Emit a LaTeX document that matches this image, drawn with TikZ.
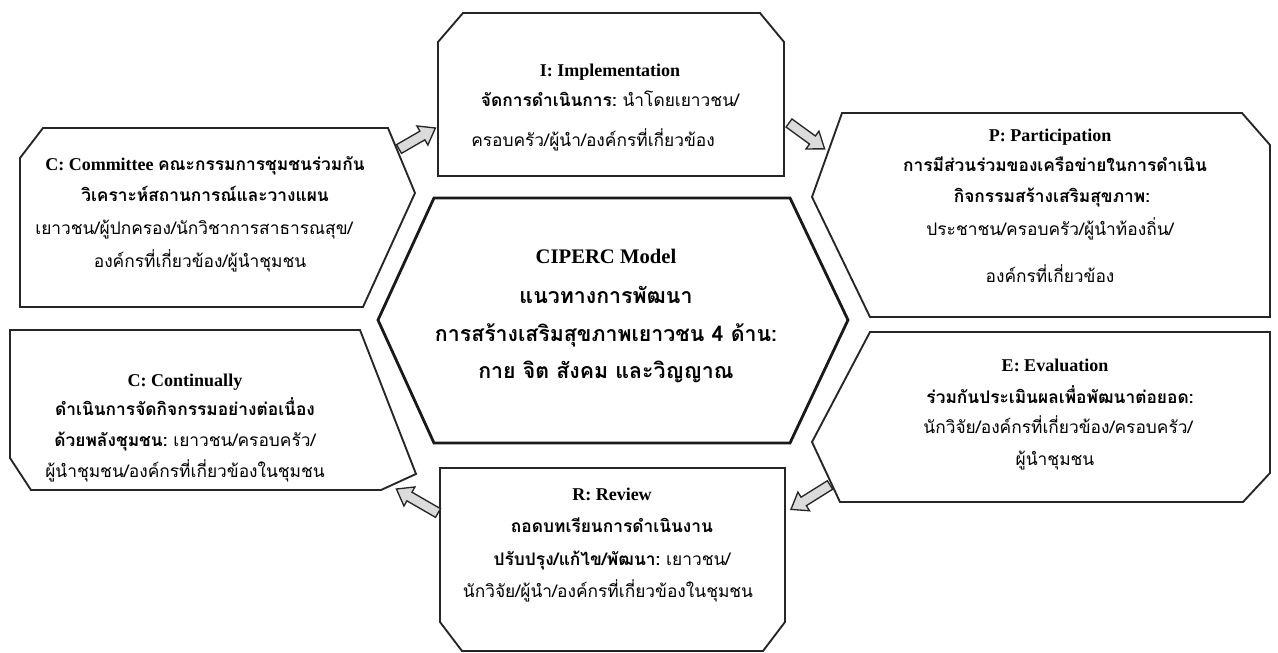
\documentclass[tikz,border=0pt]{standalone}
\usepackage{fontspec}
\setmainfont{Liberation Serif}
\newfontfamily\thaifont[Script=Thai]{Loma}
\newcommand\thx[1]{{\thaifont #1}}
\newcommand\thb[1]{{\thaifont\bfseries #1}}
% block arrow: start coordinate, angle, length
\newcommand\blockarrow[3]{%
  \begin{scope}[shift={(#1)}, rotate=#2]
    \draw[blockarr] (0,-5) -- (#3-15,-5) -- (#3-15,-11) -- (#3,0) -- (#3-15,11) -- (#3-15,5) -- (0,5) -- cycle;
  \end{scope}}
\begin{document}
\begin{tikzpicture}[x=0.75pt,y=-0.75pt,
  boxline/.style={draw=black!85, line width=1.4pt, line join=miter, fill=white},
  hexline/.style={draw=black!90, line width=2.1pt, line join=miter, fill=white},
  ln/.style={anchor=base, inner sep=0pt, font=\fontsize{13}{15}\selectfont},
  lat/.style={anchor=base, inner sep=0pt, font=\fontsize{13.5}{15}\selectfont\bfseries},
  cln/.style={anchor=base, inner sep=0pt, font=\fontsize{16}{18}\selectfont},
  clat/.style={anchor=base, inner sep=0pt, font=\fontsize{15.5}{17}\selectfont\bfseries},
  blockarr/.style={draw=black!85, fill=gray!28, line width=1pt, line join=miter}]
\useasboundingbox[fill=white] (0,0) rectangle (1278,653);

% boxes
\draw[boxline] (463,13) -- (760,13) -- (784,42) -- (784,176) -- (438,176) -- (438,42) -- cycle;
\draw[boxline] (43,128) -- (388,128) -- (415,193) -- (363,307) -- (20,307) -- (20,158) -- cycle;
\draw[boxline] (10,330) -- (360,330) -- (416,474) -- (381,490) -- (31,490) -- (10,458) -- cycle;
\draw[hexline] (434,198) -- (790,198) -- (848,320) -- (790,443) -- (434,443) -- (378,320) -- cycle;
\draw[boxline] (842,113) -- (1242,113) -- (1270,145) -- (1270,317) -- (870,317) -- (812,197) -- cycle;
\draw[boxline] (870,332) -- (1270,332) -- (1270,473) -- (1243,502) -- (840,502) -- (812,442) -- cycle;
\draw[boxline] (440,468) -- (785,468) -- (785,622) -- (763,651) -- (462,651) -- (440,622) -- cycle;

% arrows
\coordinate (a1s) at (399,149);
\coordinate (a2s) at (789,123);
\coordinate (a3s) at (830,485);
\coordinate (a4s) at (438,513);
\blockarrow{a1s}{30}{42}
\blockarrow{a2s}{-36}{44}
\blockarrow{a3s}{-148}{46}
\blockarrow{a4s}{150}{48}

% I box
\node[lat] (i1) at (610,76) {I: Implementation};
\node[ln] (i2) at (610,106) {\thb{จัดการดำเนินการ:} \thx{นำโดยเยาวชน/}};
\node[ln] (i3) at (593,146) {\thx{ครอบครัว/ผู้นำ/องค์กรที่เกี่ยวข้อง}};

% Committee
\node[ln] (c1) at (205,170) {{\fontsize{13.5}{15}\selectfont\bfseries C: Committee} \thb{คณะกรรมการชุมชนร่วมกัน}};
\node[ln] (c2) at (205,201) {\thb{วิเคราะห์สถานการณ์และวางแผน}};
\node[ln] (c3) at (194,234) {\thx{เยาวชน/ผู้ปกครอง/นักวิชาการสาธารณสุข/}};
\node[ln] (c4) at (200,267) {\thx{องค์กรที่เกี่ยวข้อง/ผู้นำชุมชน}};

% Continually
\node[lat] (k1) at (185,386) {C: Continually};
\node[ln] (k2) at (185,415) {\thb{ดำเนินการจัดกิจกรรมอย่างต่อเนื่อง}};
\node[ln] (k3) at (185,446) {\thb{ด้วยพลังชุมชน:} \thx{เยาวชน/ครอบครัว/}};
\node[ln] (k4) at (185,477) {\thx{ผู้นำชุมชน/องค์กรที่เกี่ยวข้องในชุมชน}};

% centre
\node[clat] (m1) at (606,263) {CIPERC Model};
\node[cln] (m2) at (606,303) {\thb{แนวทางการพัฒนา}};
\node[cln] (m3) at (606,341) {\thb{การสร้างเสริมสุขภาพเยาวชน 4 ด้าน:}};
\node[cln] (m4) at (606,378) {\thb{กาย จิต สังคม และวิญญาณ}};

% P
\node[lat] (p1) at (1050,141) {P: Participation};
\node[ln] (p2) at (1055,171) {\thb{การมีส่วนร่วมของเครือข่ายในการดำเนิน}};
\node[ln] (p3) at (1052,202) {\thb{กิจกรรมสร้างเสริมสุขภาพ:}};
\node[ln] (p4) at (1050,235) {\thx{ประชาชน/ครอบครัว/ผู้นำท้องถิ่น/}};
\node[ln] (p5) at (1050,282) {\thx{องค์กรที่เกี่ยวข้อง}};

% E
\node[lat] (e1) at (1055,371) {E: Evaluation};
\node[ln] (e2) at (1060,403) {\thb{ร่วมกันประเมินผลเพื่อพัฒนาต่อยอด:}};
\node[ln] (e3) at (1058,433) {\thx{นักวิจัย/องค์กรที่เกี่ยวข้อง/ครอบครัว/}};
\node[ln] (e4) at (1055,465) {\thx{ผู้นำชุมชน}};

% R
\node[lat] (r1) at (612,500) {R: Review};
\node[ln] (r2) at (612,532) {\thb{ถอดบทเรียนการดำเนินงาน}};
\node[ln] (r3) at (612,565) {\thb{ปรับปรุง/แก้ไข/พัฒนา:} \thx{เยาวชน/}};
\node[ln] (r4) at (608,597) {\thx{นักวิจัย/ผู้นำ/องค์กรที่เกี่ยวข้องในชุมชน}};
\end{tikzpicture}
\end{document}
